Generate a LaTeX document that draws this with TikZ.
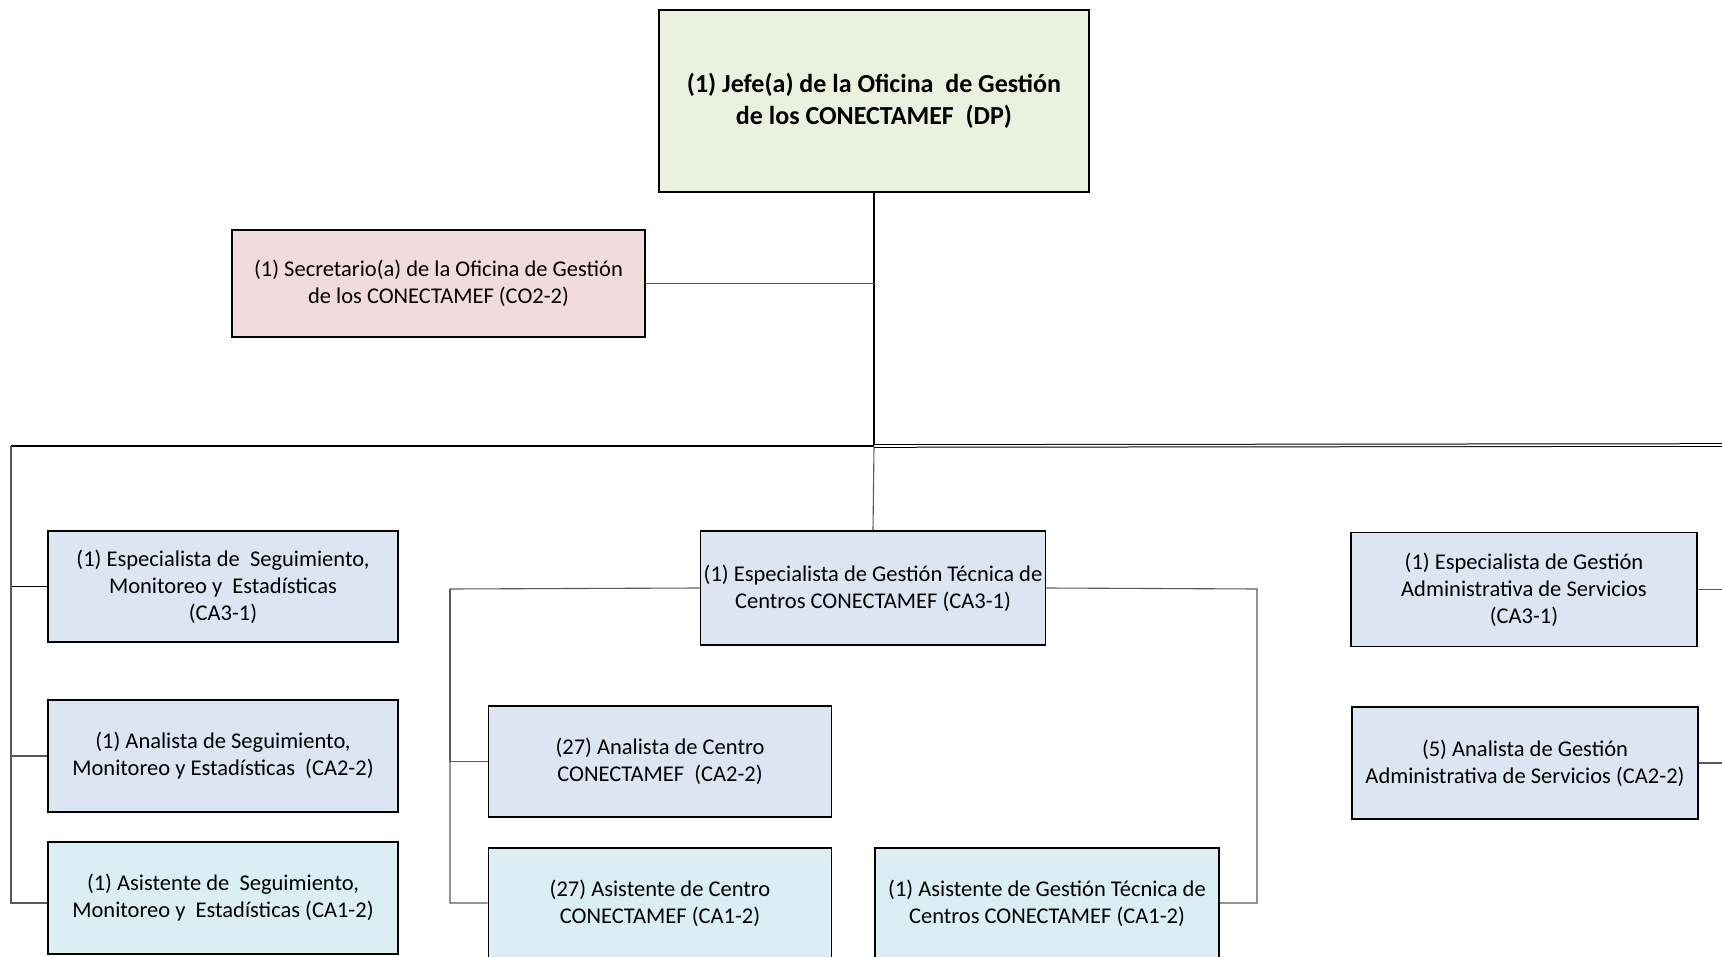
\documentclass[tikz,border=0pt]{standalone}
\usepackage{fontspec}
\setmainfont{Carlito}
\definecolor{verdejefe}{HTML}{EBF1DE}
\definecolor{rosasecr}{HTML}{F2DCDB}
\definecolor{azulcargo}{HTML}{DCE6F2}
\definecolor{aguacargo}{HTML}{DAEEF3}
\definecolor{grislinea}{HTML}{595959}
\begin{document}
\begin{tikzpicture}[x=1pt,y=-1pt,
  cargo/.style={draw=black,line width=1.6pt,fill=azulcargo,align=center,inner sep=0pt,minimum width=346pt,minimum height=112pt,font=\fontsize{22.5}{27}\selectfont},
  asistente/.style={cargo,fill=aguacargo},
  conector/.style={draw=grislinea,line width=1.1pt},
  tronco/.style={draw=black,line width=1.8pt}]
\useasboundingbox (0,0) rectangle (1722,957);
\clip (0,0) rectangle (1722,957);
\node[cargo,fill=verdejefe,minimum width=430pt,minimum height=182pt,font=\fontsize{26}{32}\selectfont\bfseries] (jefe) at (874,101) {(1) Jefe(a) de la Oficina\ \ de Gestión\\de los CONECTAMEF\ \ (DP)};
\node[cargo,fill=rosasecr,minimum width=413pt,minimum height=107pt] (secr) at (438.5,283.5) {(1) Secretario(a) de la Oficina de Gestión\\de los CONECTAMEF (CO2-2)};
\coordinate (busL) at (11,446);
\coordinate (busM) at (874,446);
\coordinate (busR) at (1722,445);
\draw[tronco] (jefe.south) -- (busM);
\draw[conector] (secr.east) -- (secr.east -| busM);
\draw[tronco] (busL) -- (busM);
\draw[double=white,double distance=1.6pt,line width=1pt] (busM) -- (busR);
% columna izquierda
\node[cargo,minimum width=350pt,minimum height=111pt] (espSeg) at (223,586.5) {(1) Especialista de\ \ Seguimiento,\\Monitoreo y\ \ Estadísticas\\(CA3-1)};
\node[cargo,minimum width=350pt] (anaSeg) at (223,756) {(1) Analista de Seguimiento,\\Monitoreo y Estadísticas\ \ (CA2-2)};
\node[asistente,minimum width=350pt] (asiSeg) at (223,898) {(1) Asistente de\ \ Seguimiento,\\Monitoreo y\ \ Estadísticas (CA1-2)};
\draw[tronco,line width=1.4pt] (busL) |- (espSeg.west);
\draw[conector] (busL) |- (anaSeg.west);
\draw[conector] (busL) |- ([yshift=-5pt]asiSeg.west);
% columna central
\node[cargo,minimum width=345pt,minimum height=114pt] (espTec) at (873,588) {(1) Especialista de Gestión Técnica de\\Centros CONECTAMEF (CA3-1)};
\node[cargo,minimum width=343pt,minimum height=111pt] (anaCen) at (660,761.5) {(27) Analista de Centro\\CONECTAMEF\ \ (CA2-2)};
\node[asistente,minimum width=343pt,minimum height=110pt] (asiCen) at (660,903) {(27) Asistente de Centro\\CONECTAMEF (CA1-2)};
\node[asistente,minimum width=344pt,minimum height=110pt] (asiTec) at (1047,903) {(1) Asistente de Gestión Técnica de\\Centros CONECTAMEF (CA1-2)};
\coordinate (brL) at (450,589);
\coordinate (brR) at (1257,589);
\draw[conector] (busM) -- (espTec.north);
\draw[conector] (espTec.west) -- (brL) |- (asiCen.west);
\draw[conector] (brL) |- (anaCen.west);
\draw[conector] (espTec.east) -- (brR) |- (asiTec.east);
% columna derecha
\node[cargo,minimum height=114pt] (espAdm) at (1524,589.5) {(1) Especialista de Gestión\\Administrativa de Servicios\\(CA3-1)};
\node[cargo] (anaAdm) at (1525,763) {(5) Analista de Gestión\\Administrativa de Servicios (CA2-2)};
\draw[conector] (espAdm.east) -- (espAdm.east -| busR);
\draw[conector] (anaAdm.east) -- (anaAdm.east -| busR);
\end{tikzpicture}
\end{document}
